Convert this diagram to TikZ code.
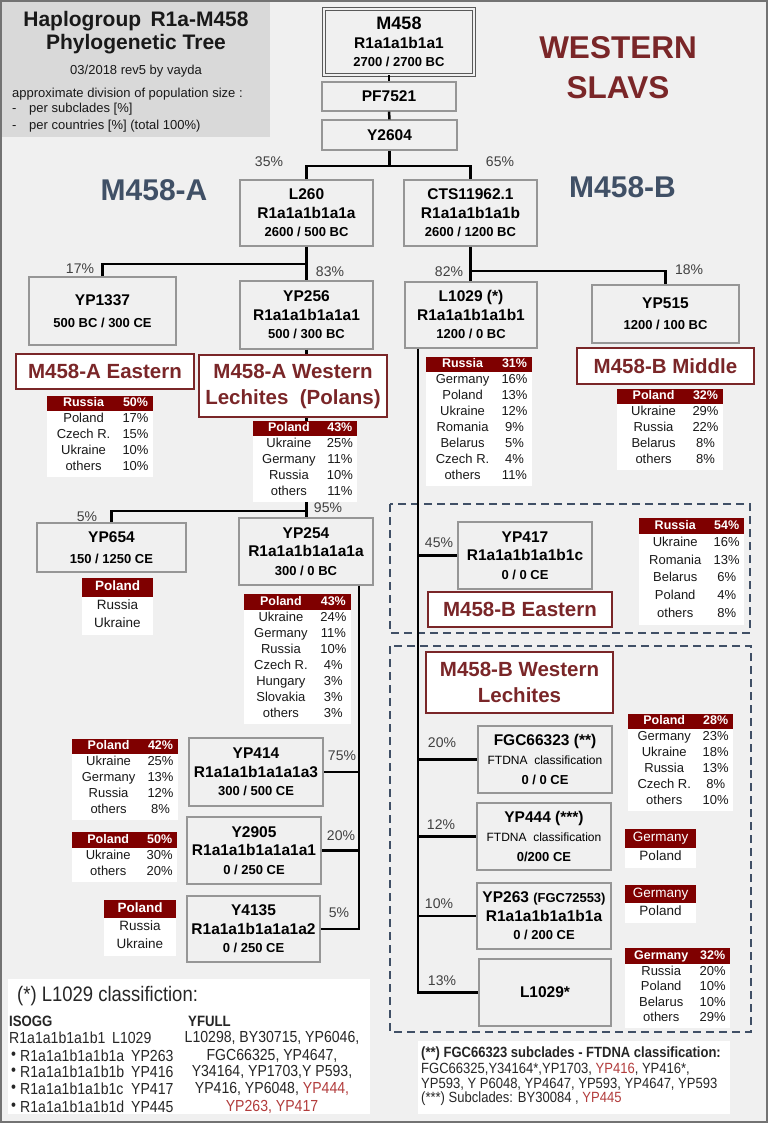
\documentclass[tikz,border=0pt]{standalone}
\usepackage{fontspec}
\setmainfont{Liberation Sans}
\newfontfamily\nar[FakeStretch=0.88]{Liberation Sans}
\usetikzlibrary{calc}
\definecolor{bgc}{RGB}{240,240,240}
\definecolor{hdrbg}{RGB}{217,217,217}
\definecolor{boxdraw}{RGB}{150,150,150}
\definecolor{dred}{RGB}{127,0,0}
\definecolor{lred}{RGB}{122,38,40}
\definecolor{slate}{RGB}{64,80,102}
\definecolor{pct}{RGB}{64,64,64}
\definecolor{nred}{RGB}{178,60,60}
\newcommand\fz[2]{\fontsize{#1}{#2}\selectfont}
\tikzset{
  nbox/.style={draw=boxdraw, line width=1.3pt, fill=bgc, inner sep=0pt, align=center, font=\bfseries\fz{15.5}{18.5}},
  tline/.style={line width=2.5pt, black},
  lbl/.style={draw=lred, line width=1.3pt, fill=white, inner sep=0pt, align=center, text=lred, font=\bfseries\fz{20.5}{26}},
  pcnt/.style={text=pct, font=\fz{14}{16}, inner sep=0pt},
  hdrtxt/.style={text=white, font=\bfseries\fz{12.5}{15}, inner sep=0pt, text height=9pt, text depth=2.5pt},
  rowtxt/.style={text=black!90, font=\fz{13}{15}, inner sep=0pt, text height=9.5pt, text depth=2.7pt},
  dbox/.style={draw=slate, line width=1.5pt, dash pattern=on 8pt off 5pt},
  bigt/.style={text=slate, font=\bfseries\fz{30}{34}, inner sep=0pt},
  redt/.style={text=lred, font=\bfseries\fz{31.5}{36}, inner sep=0pt},
  htxt/.style={inner sep=0pt, text=black!90},
  btxt/.style={inner sep=0pt, text=black!85, font=\nar\fz{16}{17}},
  rtxt/.style={inner sep=0pt, text=black!85, font=\nar\fz{14.8}{16}},
}
\newcommand\ctab[9]{%
  \pgfmathsetmacro\tca{#2+0.345*(#3-#2)}%
  \pgfmathsetmacro\tcb{#2+0.835*(#3-#2)}%
  \gdef\tnrows{0}%
  \foreach \ra/\rb [count=\ri] in {#9} {\xdef\tnrows{\ri}}%
  \pgfmathsetmacro\tbot{#5+\tnrows*#6+2}%
  \fill[white] (#2,#5) rectangle (#3,\tbot);%
  \fill[dred] (#2,#4) rectangle (#3,#5);%
  \node[hdrtxt] (#1-h1) at (\tca,{(#4+#5)/2}) {#7};%
  \node[hdrtxt] (#1-h2) at (\tcb,{(#4+#5)/2}) {#8};%
  \foreach \ra/\rb [count=\ri] in {#9} {%
    \node[rowtxt] (#1-\ri-a) at (\tca,{#5+(\ri-0.5)*#6}) {\ra};%
    \node[rowtxt] (#1-\ri-b) at (\tcb,{#5+(\ri-0.5)*#6}) {\rb};%
  }%
}
\newcommand\stab[8]{%
  \pgfmathsetmacro\tcc{(#2+#3)/2}%
  \gdef\tnrows{0}%
  \foreach \ra [count=\ri] in {#8} {\xdef\tnrows{\ri}}%
  \pgfmathsetmacro\tbot{#5+\tnrows*#6+2}%
  \fill[white] (#2,#5) rectangle (#3,\tbot);%
  \fill[dred] (#2,#4) rectangle (#3,#5);%
  \node[hdrtxt, font=\bfseries\fz{13.5}{15}] (#1-h) at (\tcc,{(#4+#5)/2}) {#7};%
  \foreach \ra [count=\ri] in {#8} {%
    \node[rowtxt, font=\fz{13.5}{15}] (#1-\ri) at (\tcc,{#5+(\ri-0.5)*#6}) {\ra};%
  }%
}
\begin{document}
\begin{tikzpicture}[x=1pt,y=-1pt]
\useasboundingbox (0,0) rectangle (768,1123);
\fill[bgc] (0,0) rectangle (768,1123);
\fill[hdrbg] (0,0) rectangle (270,137);
\draw[black!55, line width=2pt] (1,1) rectangle (767,1122);

% header texts
\node[htxt, font=\bfseries\fz{21}{24}] (h1) at (136,21) {Haplogroup\, R1a-M458};
\node[htxt, font=\bfseries\fz{21}{24}] (h2) at (136,44) {Phylogenetic Tree};
\node[htxt, font=\fz{13}{15}] (h3) at (136,71) {03/2018 rev5 by vayda};
\node[htxt, font=\fz{13}{15}, anchor=base west] (h4) at (12,97.5) {approximate division of population size :};
\node[htxt, font=\fz{13}{15}, anchor=base west] (h5a) at (12,112.5) {-};
\node[htxt, font=\fz{13}{15}, anchor=base west] (h5b) at (29,112.5) {per subclades [\%]};
\node[htxt, font=\fz{13}{15}, anchor=base west] (h6a) at (12,129.5) {-};
\node[htxt, font=\fz{13}{15}, anchor=base west] (h6b) at (29,129.5) {per countries [\%] (total 100\%)};

\node[redt] (ws1) at (618,48) {WESTERN};
\node[redt] (ws2) at (618,88) {SLAVS};
\node[bigt] (ma) at (154,190) {M458-A};
\node[bigt] (mb) at (622.5,187) {M458-B};

% dashed groups
\draw[dbox] (390,504) rectangle (750,633);
\draw[dbox] (390,646) rectangle (751,1032);

% tree boxes
\node[nbox, draw=black!65, line width=1pt, double=bgc, double distance=1.6pt, minimum width=150pt, minimum height=66pt] (M458) at (399,42) {\fz{18}{21}M458\\R1a1a1b1a1\\\fz{13}{19}2700 / 2700 BC};
\node[nbox, minimum width=134pt, minimum height=29pt] (PF7521) at (389,96.5) {PF7521};
\node[nbox, minimum width=135pt, minimum height=30pt] (Y2604) at (389.5,135) {Y2604};
\node[nbox, minimum width=133pt, minimum height=66pt] (L260) at (306.5,213) {L260\\R1a1a1b1a1a\\\fz{13}{18.5}2600 / 500 BC};
\node[nbox, minimum width=133pt, minimum height=66pt] (CTS) at (470.5,213) {CTS11962.1\\R1a1a1b1a1b\\\fz{13}{18.5}2600 / 1200 BC};
\node[nbox, minimum width=147pt, minimum height=68pt] (YP1337) at (102.5,311) {YP1337\\[3pt]\fz{13}{18.5}500 BC / 300 CE};
\node[nbox, minimum width=133pt, minimum height=68pt] (YP256) at (306.5,315) {YP256\\R1a1a1b1a1a1\\\fz{13}{18.5}500 / 300 BC};
\node[nbox, minimum width=132pt, minimum height=66pt] (L1029) at (471,315) {L1029 (*)\\R1a1a1b1a1b1\\\fz{13}{18.5}1200 / 0 BC};
\node[nbox, minimum width=147pt, minimum height=58pt] (YP515) at (665.5,314) {YP515\\[3pt]\fz{13}{18.5}1200 / 100 BC};
\node[nbox, minimum width=149pt, minimum height=49pt] (YP654) at (111.5,547.5) {YP654\\[3pt]\fz{13}{18.5}150 / 1250 CE};
\node[nbox, minimum width=134pt, minimum height=67pt] (YP254) at (306,551.5) {YP254\\R1a1a1b1a1a1a\\\fz{13}{18.5}300 / 0 BC};
\node[nbox, minimum width=134pt, minimum height=67pt] (YP417) at (525,555.5) {YP417\\R1a1a1b1a1b1c\\\fz{13}{18.5}0 / 0 CE};
\node[nbox, minimum width=134pt, minimum height=67pt] (FGC) at (545,759.5) {FGC66323 (**)\\[1pt]{\mdseries\fz{12}{18.5}FTDNA~ classification}\\[1pt]\fz{13}{18.5}0 / 0 CE};
\node[nbox, minimum width=134pt, minimum height=67pt] (YP444) at (544,836.5) {YP444 (***)\\[1pt]{\mdseries\fz{12}{18.5}FTDNA~ classification}\\[1pt]\fz{13}{18.5}0/200 CE};
\node[nbox, minimum width=134pt, minimum height=66pt] (YP263) at (544,916) {YP263 {\fz{13}{18.5}(FGC72553)}\\R1a1a1b1a1b1a\\\fz{13}{18.5}0 / 200 CE};
\node[nbox, minimum width=132pt, minimum height=67pt] (Lstar) at (545,992.5) {L1029*};
\node[nbox, minimum width=134pt, minimum height=68pt] (YP414) at (256,772) {YP414\\R1a1a1b1a1a1a3\\\fz{13}{18.5}300 / 500 CE};
\node[nbox, minimum width=134pt, minimum height=67pt] (Y2905) at (254,850.5) {Y2905\\R1a1a1b1a1a1a1\\\fz{13}{18.5}0 / 250 CE};
\node[nbox, minimum width=133pt, minimum height=66pt] (Y4135) at (253.5,929) {Y4135\\R1a1a1b1a1a1a2\\\fz{13}{18.5}0 / 250 CE};

% connectors
\coordinate (jTop) at (390,166);
\coordinate (jL) at (306.5,264);
\coordinate (jC) at (471,271);
\coordinate (jY) at (306.5,511);
\coordinate (vA) at (359,0);
\coordinate (vB) at (418,0);
\draw[tline] (M458.south -| PF7521.north) -- (PF7521.north);
\draw[tline] (PF7521.south) -- (Y2604.north);
\draw[tline] (Y2604.south) -- (Y2604.south |- jTop);
\draw[tline] (L260.north) |- (jTop) -| (CTS.north);
\draw[tline] (L260.south) -- (YP256.north);
\draw[tline] (YP1337.north) |- (jL);
\draw[tline] (CTS.south) -- (CTS.south |- L1029.north);
\draw[tline] (CTS.south |- jC) -| (YP515.north);
\draw[tline] (YP256.south) -- (YP256.south |- YP254.north);
\draw[tline] (YP256.south |- jY) -| (YP654.north);
\draw[tline] (YP254.south -| vA) |- (Y4135.east);
\draw[tline] (vA |- YP414.east) -- (YP414.east);
\draw[tline] (vA |- Y2905.east) -- (Y2905.east);
\draw[tline] (L1029.south -| vB) |- (Lstar.west);
\draw[tline] (vB |- YP417.west) -- (YP417.west);
\draw[tline] (vB |- FGC.west) -- (FGC.west);
\draw[tline] (vB |- YP444.west) -- (YP444.west);
\draw[tline] (vB |- YP263.west) -- (YP263.west);

% percentages
\node[pcnt] (p35) at (269,162) {35\%};
\node[pcnt] (p65) at (500,162) {65\%};
\node[pcnt] (p17) at (80,269) {17\%};
\node[pcnt] (p83) at (330,272) {83\%};
\node[pcnt] (p82) at (449,272) {82\%};
\node[pcnt] (p18) at (689,270) {18\%};
\node[pcnt] (p95) at (328,508) {95\%};
\node[pcnt] (p5a) at (87,517) {5\%};
\node[pcnt] (p45) at (439,543) {45\%};
\node[pcnt] (p20b) at (442,743) {20\%};
\node[pcnt] (p12) at (441,825) {12\%};
\node[pcnt] (p10) at (439,904) {10\%};
\node[pcnt] (p13) at (442,981) {13\%};
\node[pcnt] (p75) at (342,756) {75\%};
\node[pcnt] (p20a) at (341,836) {20\%};
\node[pcnt] (p5b) at (339,913) {5\%};

% group labels
\node[lbl, minimum width=178pt, minimum height=35pt] (AEast) at (105,371.5) {M458-A Eastern};
\node[lbl, minimum width=188pt, minimum height=62pt] (AWest) at (293,386) {M458-A Western\\Lechites~ (Polans)};
\node[lbl, minimum width=177pt, minimum height=36pt] (BMid) at (665.5,366) {M458-B Middle};
\node[lbl, minimum width=184pt, minimum height=35pt] (BEast) at (520,609.5) {M458-B Eastern};
\node[lbl, minimum width=187pt, minimum height=61pt] (BWest) at (519.5,682.5) {M458-B Western\\Lechites};

% country tables
\ctab{tAE}{47}{153}{396}{411}{16}{Russia}{50\%}{Poland/17\%,Czech R./15\%,Ukraine/10\%,others/10\%}
\ctab{tAW}{253}{357}{421}{436}{16}{Poland}{43\%}{Ukraine/25\%,Germany/11\%,Russia/10\%,others/11\%}
\ctab{tL}{426}{532}{357}{372}{16}{Russia}{31\%}{Germany/16\%,Poland/13\%,Ukraine/12\%,Romania/9\%,Belarus/5\%,Czech R./4\%,others/11\%}
\ctab{tBM}{617}{723}{389}{404}{16}{Poland}{32\%}{Ukraine/29\%,Russia/22\%,Belarus/8\%,others/8\%}
\stab{tYa}{82}{153}{578}{597}{18}{Poland}{Russia,Ukraine}
\ctab{tYb}{244}{351}{594}{610}{16}{Poland}{43\%}{Ukraine/24\%,Germany/11\%,Russia/10\%,Czech R./4\%,Hungary/3\%,Slovakia/3\%,others/3\%}
\ctab{tBE}{639}{744}{518}{534}{17.75}{Russia}{54\%}{Ukraine/16\%,Romania/13\%,Belarus/6\%,Poland/4\%,others/8\%}
\ctab{tFG}{628}{733}{714}{729}{16}{Poland}{28\%}{Germany/23\%,Ukraine/18\%,Russia/13\%,Czech R./8\%,others/10\%}
\stab{tYc}{625}{696}{829}{848}{18}{\mdseries Germany}{Poland}
\stab{tYd}{625}{696}{885}{903}{18}{\mdseries Germany}{Poland}
\ctab{tLs}{625}{730}{948}{964}{15.5}{Germany}{32\%}{Russia/20\%,Poland/10\%,Belarus/10\%,others/29\%}
\ctab{tYe}{72}{178}{739}{754}{16}{Poland}{42\%}{Ukraine/25\%,Germany/13\%,Russia/12\%,others/8\%}
\ctab{tYf}{72}{177}{832}{848}{16}{Poland}{50\%}{Ukraine/30\%,others/20\%}
\stab{tYg}{104}{176}{900}{918}{18}{Poland}{Russia,Ukraine}

% bottom notes
\fill[white] (8,979) rectangle (370,1114);
\node[btxt, anchor=west, font=\nar\fz{21}{24}] (n0) at (17,996) {(*) L1029 classifiction:};
\node[btxt, anchor=west, font=\nar\bfseries\fz{15}{17}] (n1) at (9,1021) {ISOGG};
\node[btxt, anchor=west, font=\nar\bfseries\fz{15}{17}] (n2) at (188,1021) {YFULL};
\node[btxt, anchor=west] (i0a) at (9,1038) {R1a1a1b1a1b1};
\node[btxt, anchor=west] (i0b) at (112,1038) {L1029};
\foreach \ya/\sa/\sb [count=\k] in {1056/R1a1a1b1a1b1a/YP263,1072/R1a1a1b1a1b1b/YP416,1089/R1a1a1b1a1b1c/YP417,1107/R1a1a1b1a1b1d/YP445}{
  \node[btxt, anchor=west] (ib\k) at (11,\ya) {\textbullet};
  \node[btxt, anchor=west] (ic\k) at (20,\ya) {\sa};
  \node[btxt, anchor=west] (id\k) at (131,\ya) {\sb};
}
\node[btxt] (y1) at (272,1038) {L10298, BY30715, YP6046,};
\node[btxt] (y2) at (272,1056) {FGC66325, YP4647,};
\node[btxt] (y3) at (272,1072) {Y34164, YP1703,Y P593,};
\node[btxt] (y4) at (272,1089) {YP416, YP6048, \textcolor{nred}{YP444,}};
\node[btxt, text=nred] (y5) at (272,1107) {YP263, YP417};

\fill[white] (418,1041) rectangle (730,1114);
\node[rtxt, anchor=west, font=\nar\bfseries\fz{14.8}{16}] (r1) at (421,1054) {(**) FGC66323 subclades - FTDNA classification:};
\node[rtxt, anchor=west] (r2) at (421,1069) {FGC66325,Y34164*,YP1703, \textcolor{nred}{YP416}, YP416*,};
\node[rtxt, anchor=west] (r3) at (421,1084) {YP593, Y P6048, YP4647, YP593, YP4647, YP593};
\node[rtxt, anchor=west] (r4) at (421,1099) {(***) Subclades: BY30084 , \textcolor{nred}{YP445}};
\end{tikzpicture}
\end{document}
